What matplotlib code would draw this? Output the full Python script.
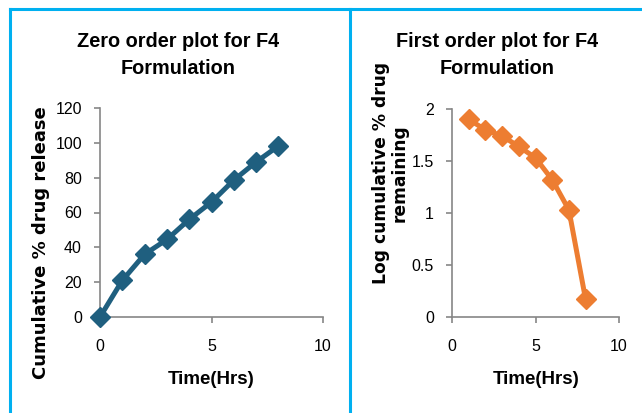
import numpy as np
import matplotlib
matplotlib.use("Agg")
import matplotlib.pyplot as plt
from matplotlib.lines import Line2D

# data
time_zero = [0, 1, 2, 3, 4, 5, 6, 7, 8]
cum_release = [0, 21, 36, 44.5, 56, 66, 78.6, 89, 98.2]

time_first = [1, 2, 3, 4, 5, 6, 7, 8]
log_remaining = [1.90, 1.80, 1.74, 1.64, 1.53, 1.32, 1.03, 0.17]

x_ticks = [0, 5, 10]
y_ticks_zero = [0, 20, 40, 60, 80, 100, 120]
y_ticks_first = [0, 0.5, 1, 1.5, 2]
y_tick_labels_first = ['0', '0.5', '1', '1.5', '2']

W, H = 642, 413
arial = ['Liberation Sans', 'DejaVu Sans']
axis_grey = '#868686'
border = '#00b0f0'

fig = plt.figure(figsize=(W / 100, H / 100), dpi=100)


def px_axes(x0, x1, y_top, y_bot):
    return fig.add_axes([x0 / W, 1 - y_bot / H, (x1 - x0) / W, (y_bot - y_top) / H])


def style(ax):
    for s in ['top', 'right']:
        ax.spines[s].set_visible(False)
    for s in ['left', 'bottom']:
        ax.spines[s].set_color(axis_grey)
        ax.spines[s].set_linewidth(1.2)
    ax.tick_params(axis='both', direction='out', length=4, width=1.2, color=axis_grey,
                   labelsize=11.5, labelcolor='black')
    ax.tick_params(axis='x', pad=12)
    ax.tick_params(axis='y', pad=9)
    for lab in ax.get_xticklabels() + ax.get_yticklabels():
        lab.set_family(arial)


# left: zero order
ax1 = px_axes(100, 323, 108, 317)
ax1.plot(time_zero, cum_release, color='#1f5f7f', lw=3.6, marker='D', markersize=10,
         clip_on=False, zorder=3)
ax1.set_xlim(0, 10)
ax1.set_ylim(0, 120)
ax1.set_xticks(x_ticks)
ax1.set_yticks(y_ticks_zero)
style(ax1)

# right: first order
ax2 = px_axes(452, 619, 109, 317)
ax2.plot(time_first, log_remaining, color='#ed7d31', lw=3.6, marker='D', markersize=10,
         clip_on=False, zorder=3)
ax2.set_xlim(0, 10)
ax2.set_ylim(0, 2)
ax2.set_xticks(x_ticks)
ax2.set_yticks(y_ticks_first)
ax2.set_yticklabels(y_tick_labels_first)
style(ax2)

# titles
fig.text(178 / W, 1 - 55 / H, 'Zero order plot for F4\nFormulation', ha='center', va='center',
         family=arial, fontweight='bold', fontsize=14.3, linespacing=1.5)
fig.text(497 / W, 1 - 55 / H, 'First order plot for F4\nFormulation', ha='center', va='center',
         family=arial, fontweight='bold', fontsize=14.3, linespacing=1.5)

# axis titles
fig.text(211 / W, 1 - 380 / H, 'Time(Hrs)', ha='center', va='center',
         family=arial, fontweight='bold', fontsize=13.5)
fig.text(536 / W, 1 - 380 / H, 'Time(Hrs)', ha='center', va='center',
         family=arial, fontweight='bold', fontsize=13.5)
fig.text(41 / W, 1 - 243 / H, 'Cumulative % drug release', rotation=90, ha='center', va='center',
         family='DejaVu Sans', fontweight='bold', fontsize=13)
fig.text(390 / W, 1 - 173 / H, 'Log cumulative % drug\nremaining', rotation=90, ha='center',
         va='center', family='DejaVu Sans', fontweight='bold', fontsize=12.3, linespacing=1.05)

# cyan frame lines
lw = 2.2
fig.add_artist(Line2D([10.5 / W, 1], [1 - 8.5 / H, 1 - 8.5 / H], color=border, lw=lw))
fig.add_artist(Line2D([10.5 / W, 10.5 / W], [0, 1 - 8.5 / H], color=border, lw=lw))
fig.add_artist(Line2D([349.5 / W, 349.5 / W], [0, 1 - 8.5 / H], color=border, lw=lw))

fig.savefig('out.png', dpi=100)
